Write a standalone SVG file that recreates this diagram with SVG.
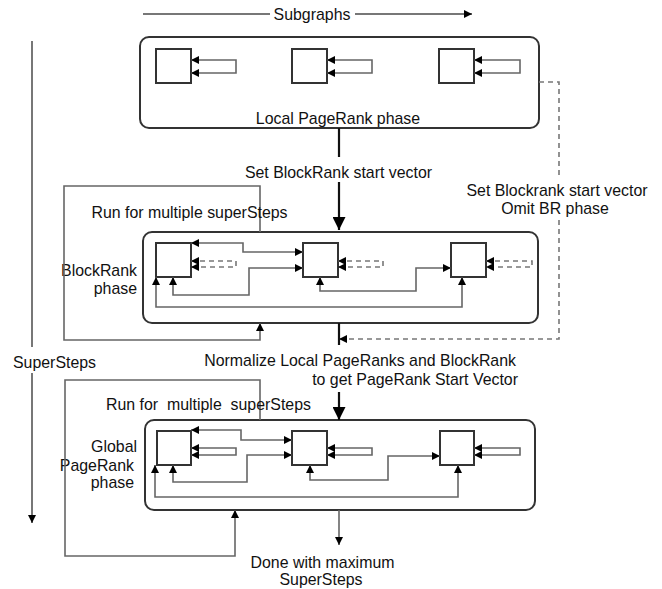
<svg xmlns="http://www.w3.org/2000/svg" width="662" height="589" viewBox="0 0 662 589">
  <style>
    text { font-family: "Liberation Sans", Arial, sans-serif; font-size: 15.9px; fill: #111; }
    .mid { text-anchor: middle; }
    .end { text-anchor: end; }
    .phase { fill: none; stroke: #333; stroke-width: 2; }
    .blk { fill: #fff; stroke: #333; stroke-width: 2; }
    .link { fill: none; stroke: #666; stroke-width: 1.6; }
    .dash { fill: none; stroke: #777; stroke-width: 1.6; stroke-dasharray: 5 4; }
    .main { fill: none; stroke: #111; stroke-width: 2.2; }
    .axis { fill: none; stroke: #777; stroke-width: 2; }
  </style>
  <defs>
    <marker id="tip" viewBox="0 0 10 10" refX="10" refY="5" markerWidth="8" markerHeight="8" markerUnits="userSpaceOnUse" orient="auto-start-reverse">
      <path d="M0,0 L10,5 L0,10 Z" fill="#000"/>
    </marker>
    <marker id="bigtip" viewBox="0 0 10 10" refX="10" refY="5" markerWidth="13" markerHeight="13" markerUnits="userSpaceOnUse" orient="auto">
      <path d="M0,0 L10,5 L0,10 Z" fill="#000"/>
    </marker>
  </defs>

  <!-- axes -->
  <g id="axis-subgraphs">
    <path class="axis" d="M143,14 H270 M355,14 H472" marker-end="url(#tip)"/>
    <text class="mid" x="312" y="20">Subgraphs</text>
  </g>
  <g id="axis-supersteps">
    <path class="axis" d="M32,41 V347"/>
    <path class="axis" d="M32,373 V523" marker-end="url(#tip)"/>
    <text x="13" y="368">SuperSteps</text>
  </g>

  <!-- Local PageRank phase -->
  <g id="local-phase">
    <rect class="phase" x="140" y="37" width="399" height="91" rx="9"/>
    <rect class="blk" x="156" y="49" width="35" height="34"/>
    <rect class="blk" x="292" y="49" width="35" height="34"/>
    <rect class="blk" x="439" y="49" width="35" height="34"/>
    <path class="link" d="M191,60 H236 V73 H191" marker-start="url(#tip)" marker-end="url(#tip)"/>
    <path class="link" d="M327,60 H372 V73 H327" marker-start="url(#tip)" marker-end="url(#tip)"/>
    <path class="link" d="M474,60 H520 V73 H474" marker-start="url(#tip)" marker-end="url(#tip)"/>
    <text class="mid" x="338" y="124">Local PageRank phase</text>
  </g>

  <!-- BlockRank phase -->
  <g id="blockrank-phase">
    <rect class="phase" x="143" y="232" width="395" height="91" rx="9"/>
    <rect class="blk" x="156" y="243" width="35" height="34"/>
    <rect class="blk" x="303" y="243" width="35" height="34"/>
    <rect class="blk" x="451" y="243" width="35" height="34"/>
    <path class="link" d="M191,243 H243 V252 H303" marker-start="url(#tip)" marker-end="url(#tip)"/>
    <path class="dash" d="M191,261 H236 V267 H191" marker-start="url(#tip)" marker-end="url(#tip)"/>
    <path class="dash" d="M338,261 H383 V267 H338" marker-start="url(#tip)" marker-end="url(#tip)"/>
    <path class="dash" d="M486,261 H532 V267 H486" marker-start="url(#tip)" marker-end="url(#tip)"/>
    <path class="link" d="M173,277 V295 H249 V268 H303" marker-start="url(#tip)" marker-end="url(#tip)"/>
    <path class="link" d="M320,277 V291 H416 V268 H451" marker-start="url(#tip)" marker-end="url(#tip)"/>
    <path class="link" d="M156,277 V307 H462 V277" marker-start="url(#tip)" marker-end="url(#tip)"/>
    <text class="end" x="137" y="276">BlockRank</text>
    <text class="end" x="137" y="294">phase</text>
  </g>

  <!-- Global PageRank phase -->
  <g id="global-phase">
    <rect class="phase" x="145" y="420" width="390" height="90" rx="9"/>
    <rect class="blk" x="157" y="431" width="34" height="34"/>
    <rect class="blk" x="292" y="431" width="35" height="34"/>
    <rect class="blk" x="440" y="431" width="34" height="34"/>
    <path class="link" d="M191,430 H241 V440 H292" marker-start="url(#tip)" marker-end="url(#tip)"/>
    <path class="link" d="M191,448 H236 V455 H191" marker-start="url(#tip)" marker-end="url(#tip)"/>
    <path class="link" d="M327,448 H372 V455 H327" marker-start="url(#tip)" marker-end="url(#tip)"/>
    <path class="link" d="M474,448 H520 V455 H474" marker-start="url(#tip)" marker-end="url(#tip)"/>
    <path class="link" d="M173,465 V482 H247 V455 H292" marker-start="url(#tip)" marker-end="url(#tip)"/>
    <path class="link" d="M310,465 V480 H388 V456 H440" marker-start="url(#tip)" marker-end="url(#tip)"/>
    <path class="link" d="M155,465 V497 H458 V465" marker-start="url(#tip)" marker-end="url(#tip)"/>
    <text class="end" x="137" y="452">Global</text>
    <text class="end" x="134" y="471">PageRank</text>
    <text class="end" x="134" y="488">phase</text>
  </g>

  <!-- flow between phases -->
  <g id="connectors">
    <path class="main" d="M339,128 V157"/>
    <path class="main" d="M339,182 V230" marker-end="url(#bigtip)"/>
    <text class="mid" x="338.5" y="178">Set BlockRank start vector</text>

    <path class="dash" d="M539,82 H559 V178 M559,220 V339 H339" marker-end="url(#tip)"/>
    <text class="mid" x="557" y="196">Set Blockrank start vector</text>
    <text class="mid" x="555" y="214">Omit BR phase</text>

    <path class="link" d="M260,232 V186 H64 V340 H260 V323" marker-end="url(#tip)"/>
    <text class="mid" x="189.5" y="218">Run for multiple superSteps</text>

    <path class="main" d="M339,323 V345"/>
    <path class="main" d="M339,392 V420" marker-end="url(#bigtip)"/>
    <text class="end" x="516" y="366">Normalize Local PageRanks and BlockRank</text>
    <text class="end" x="518" y="385">to get PageRank Start Vector</text>

    <path class="link" d="M260,420 V380 H65 V556 H235 V510" marker-end="url(#tip)"/>
    <text class="mid" x="208.5" y="410" xml:space="preserve">Run for  multiple  superSteps</text>

    <path class="link" d="M339,510 V545" marker-end="url(#tip)"/>
    <text class="mid" x="322.5" y="568">Done with maximum</text>
    <text class="mid" x="321" y="585">SuperSteps</text>
  </g>
</svg>
